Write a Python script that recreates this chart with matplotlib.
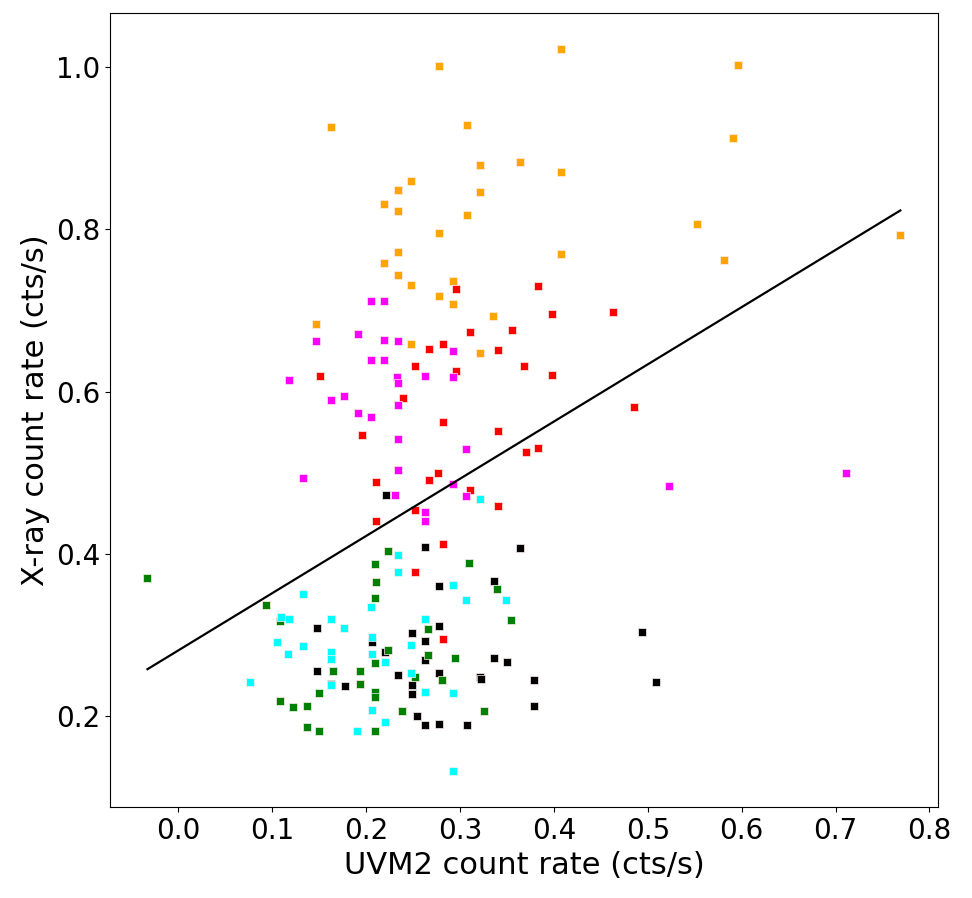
import numpy as np
import matplotlib
matplotlib.use("Agg")
import matplotlib.pyplot as plt

# UVM2 vs X-ray count rates, one list per group
orange_x = [0.278, 0.162, 0.307, 0.321, 0.364, 0.248, 0.234, 0.321, 0.219, 0.234, 0.307, 0.278, 0.234, 0.219, 0.234, 0.248,
            0.292, 0.278, 0.292, 0.408, 0.596, 0.591, 0.407, 0.552, 0.769, 0.581, 0.408, 0.335, 0.147, 0.248, 0.321]
orange_y = [1.001, 0.926, 0.929, 0.879, 0.883, 0.859, 0.848, 0.846, 0.831, 0.822, 0.817, 0.795, 0.772, 0.759, 0.743, 0.731,
            0.736, 0.718, 0.708, 1.022, 1.003, 0.913, 0.870, 0.807, 0.793, 0.762, 0.769, 0.693, 0.683, 0.659, 0.647]

red_x = [0.296, 0.383, 0.398, 0.463, 0.311, 0.355, 0.267, 0.282, 0.340, 0.252, 0.368, 0.151, 0.296, 0.398, 0.239, 0.485,
         0.282, 0.340, 0.195, 0.370, 0.383, 0.210, 0.276, 0.267, 0.311, 0.340, 0.252, 0.210, 0.282, 0.252, 0.282]
red_y = [0.726, 0.730, 0.695, 0.698, 0.673, 0.676, 0.652, 0.658, 0.651, 0.632, 0.632, 0.619, 0.625, 0.620, 0.592, 0.581,
         0.563, 0.551, 0.546, 0.525, 0.530, 0.489, 0.500, 0.491, 0.479, 0.459, 0.454, 0.441, 0.412, 0.377, 0.295]

magenta_x = [0.205, 0.219, 0.191, 0.147, 0.219, 0.234, 0.292, 0.205, 0.219, 0.118, 0.233, 0.234, 0.263, 0.292, 0.162,
             0.176, 0.234, 0.191, 0.205, 0.234, 0.306, 0.133, 0.234, 0.292, 0.231, 0.306, 0.263, 0.263, 0.523, 0.711]
magenta_y = [0.711, 0.712, 0.671, 0.662, 0.663, 0.662, 0.650, 0.639, 0.639, 0.614, 0.618, 0.610, 0.619, 0.618, 0.590,
             0.595, 0.583, 0.574, 0.569, 0.541, 0.529, 0.494, 0.503, 0.486, 0.473, 0.471, 0.452, 0.441, 0.484, 0.499]

black_x = [0.221, 0.263, 0.364, 0.278, 0.336, 0.148, 0.278, 0.249, 0.206, 0.263, 0.220, 0.336, 0.350, 0.263, 0.148, 0.163,
           0.177, 0.234, 0.278, 0.321, 0.322, 0.379, 0.249, 0.249, 0.379, 0.254, 0.263, 0.278, 0.307, 0.494, 0.509]
black_y = [0.473, 0.408, 0.407, 0.360, 0.367, 0.308, 0.311, 0.302, 0.291, 0.292, 0.279, 0.272, 0.266, 0.269, 0.256, 0.240,
           0.237, 0.250, 0.253, 0.248, 0.246, 0.244, 0.238, 0.227, 0.212, 0.200, 0.189, 0.190, 0.189, 0.304, 0.242]

green_x = [-0.033, 0.093, 0.108, 0.165, 0.193, 0.193, 0.150, 0.108, 0.122, 0.137, 0.137, 0.150, 0.223, 0.310, 0.209, 0.210,
           0.339, 0.209, 0.354, 0.266, 0.223, 0.266, 0.295, 0.209, 0.252, 0.281, 0.209, 0.209, 0.238, 0.325, 0.209]
green_y = [0.370, 0.337, 0.317, 0.255, 0.256, 0.239, 0.229, 0.219, 0.211, 0.212, 0.187, 0.182, 0.403, 0.389, 0.387, 0.365,
           0.356, 0.345, 0.318, 0.307, 0.282, 0.275, 0.272, 0.265, 0.248, 0.245, 0.230, 0.224, 0.206, 0.206, 0.182]

cyan_x = [0.321, 0.133, 0.109, 0.118, 0.162, 0.176, 0.105, 0.133, 0.117, 0.162, 0.162, 0.076, 0.162, 0.190, 0.234, 0.234,
          0.292, 0.205, 0.306, 0.349, 0.263, 0.206, 0.248, 0.206, 0.220, 0.248, 0.263, 0.292, 0.206, 0.220, 0.292]
cyan_y = [0.468, 0.351, 0.322, 0.320, 0.320, 0.308, 0.291, 0.286, 0.277, 0.279, 0.270, 0.242, 0.238, 0.182, 0.399, 0.378,
          0.361, 0.335, 0.343, 0.343, 0.320, 0.297, 0.287, 0.276, 0.267, 0.253, 0.230, 0.228, 0.207, 0.193, 0.132]

# straight-line fit drawn over the whole x range
fit_slope = 0.705
fit_intercept = 0.281

groups = [(orange_x, orange_y, 'orange'),
          (red_x, red_y, 'red'),
          (magenta_x, magenta_y, 'magenta'),
          (black_x, black_y, 'black'),
          (green_x, green_y, 'green'),
          (cyan_x, cyan_y, 'cyan')]

fig = plt.figure(figsize=(9.72, 8.98), dpi=100)
ax = fig.add_axes([0.113, 0.101, 0.852, 0.8845])

all_x = []
for gx, gy, col in groups:
    ax.plot(gx, gy, 's', color=col, markersize=6.2, markeredgecolor='#ffeeee', markeredgewidth=0.5)
    all_x += gx

xx = np.array([min(all_x), max(all_x)])
ax.plot(xx, fit_slope * xx + fit_intercept, color='k', linewidth=1.6)

ax.set_xlabel('UVM2 count rate (cts/s)', fontsize=22)
ax.set_ylabel('X-ray count rate (cts/s)', fontsize=22)
ax.tick_params(labelsize=20)
ax.set_yticks([0.2, 0.4, 0.6, 0.8, 1.0])

fig.savefig('out.png', dpi=100)
